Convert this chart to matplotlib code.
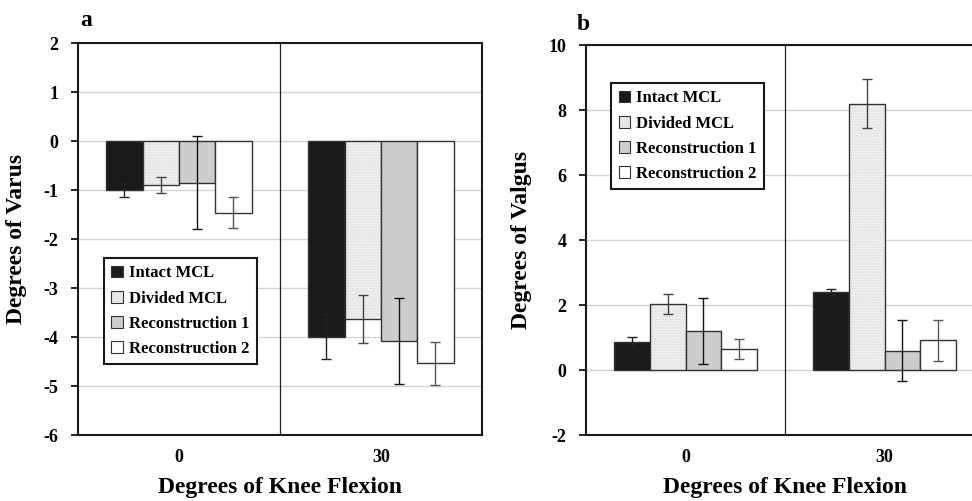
import matplotlib
matplotlib.use("Agg")
import matplotlib.pyplot as plt
import numpy as np
from matplotlib.patches import Patch

plt.rcParams['font.family'] = ['Liberation Serif', 'DejaVu Serif']
plt.rcParams['font.weight'] = 'bold'
plt.rcParams['axes.unicode_minus'] = False
plt.rcParams['hatch.linewidth'] = 0.5

# datos
flexion = ["0", "30"]
series = ["Intact MCL", "Divided MCL", "Reconstruction 1", "Reconstruction 2"]

varus_mean = [[-1.00, -0.90, -0.85, -1.46],
              [-3.99, -3.64, -4.08, -4.54]]
varus_err = [[0.15, 0.16, 0.95, 0.32],
             [0.46, 0.49, 0.88, 0.43]]

valgus_mean = [[0.87, 2.03, 1.21, 0.65],
               [2.41, 8.20, 0.60, 0.91]]
valgus_err = [[0.15, 0.32, 1.01, 0.31],
              [0.09, 0.74, 0.95, 0.62]]

facecolors = ['#1a1a1a', '#eeeeee', '#cdcdcd', 'white']
hatches = [None, '......', None, None]
errcolors = ['#222222', '#444444', '#111111', '#555555']
HATCH_COL = '#d6d6d6'

W = 0.18


def draw_panel(ax, mean, err, ylim, ystep, ylabel, leg_pos):
    mean = np.array(mean)
    err = np.array(err)
    x = np.arange(len(flexion)) + 0.5
    for i in range(len(series)):
        xs = x + (i - 1.5) * W
        if hatches[i]:
            # capa de punteado clara, luego el borde oscuro encima
            ax.bar(xs, mean[:, i], W, color=facecolors[i], edgecolor=HATCH_COL,
                   linewidth=0, hatch=hatches[i], zorder=2)
            ax.bar(xs, mean[:, i], W, fill=False, edgecolor='#333333',
                   linewidth=1.0, zorder=2)
        else:
            ax.bar(xs, mean[:, i], W, color=facecolors[i], edgecolor='#333333',
                   linewidth=1.0, zorder=2)
        ax.errorbar(xs, mean[:, i], yerr=err[:, i], fmt='none',
                    ecolor=errcolors[i], elinewidth=1.0, capsize=3.6,
                    capthick=1.0, zorder=3)
    ax.set_xlim(0, 2)
    ax.set_ylim(*ylim)
    ax.set_yticks(np.arange(ylim[0], ylim[1] + 0.1, ystep))
    ax.yaxis.grid(True, color='#d4d4d4', linewidth=1.0, zorder=0)
    ax.set_axisbelow(True)
    ax.axvline(1, color='#222222', linewidth=0.9, zorder=1)
    ax.set_xticks(x)
    ax.set_xticklabels(flexion)
    ax.tick_params(axis='x', length=0, pad=10, labelsize=13)
    ax.tick_params(axis='y', length=5, width=1.2, pad=9, labelsize=13)
    for s in ax.spines.values():
        s.set_linewidth(1.5)
        s.set_color('#1a1a1a')
    ax.set_ylabel(ylabel, fontsize=17, fontweight='bold', labelpad=12)
    ax.set_xlabel("Degrees of Knee Flexion", fontsize=17, fontweight='bold',
                  labelpad=8)
    handles = [Patch(facecolor=('#e6e6e6' if hatches[i] else facecolors[i]),
                     edgecolor='#333333', linewidth=0.8)
               for i in range(len(series))]
    leg = ax.legend(handles, series, loc='upper left', bbox_to_anchor=leg_pos,
                    fontsize=12, handlelength=0.7, handleheight=0.7,
                    handletextpad=0.35, labelspacing=0.55, borderpad=0.45,
                    borderaxespad=0, fancybox=False, framealpha=1)
    leg.get_frame().set_edgecolor('#1a1a1a')
    leg.get_frame().set_linewidth(1.5)
    leg.set_zorder(5)


fig = plt.figure(figsize=(9.72, 5.01), dpi=100)
ax1 = fig.add_axes([0.0802, 0.1317, 0.4156, 0.7824])
ax2 = fig.add_axes([0.6029, 0.1317, 0.4095, 0.7784])

draw_panel(ax1, varus_mean, varus_err, (-6, 2), 1, "Degrees of Varus",
           (0.064, 0.452))
draw_panel(ax2, valgus_mean, valgus_err, (-2, 10), 2, "Degrees of Valgus",
           (0.063, 0.903))

fig.text(80 / 972, 1 - 26 / 501, "a", fontsize=17, fontweight='bold')
fig.text(577 / 972, 1 - 30 / 501, "b", fontsize=17, fontweight='bold')

fig.savefig("out.png", dpi=100)
